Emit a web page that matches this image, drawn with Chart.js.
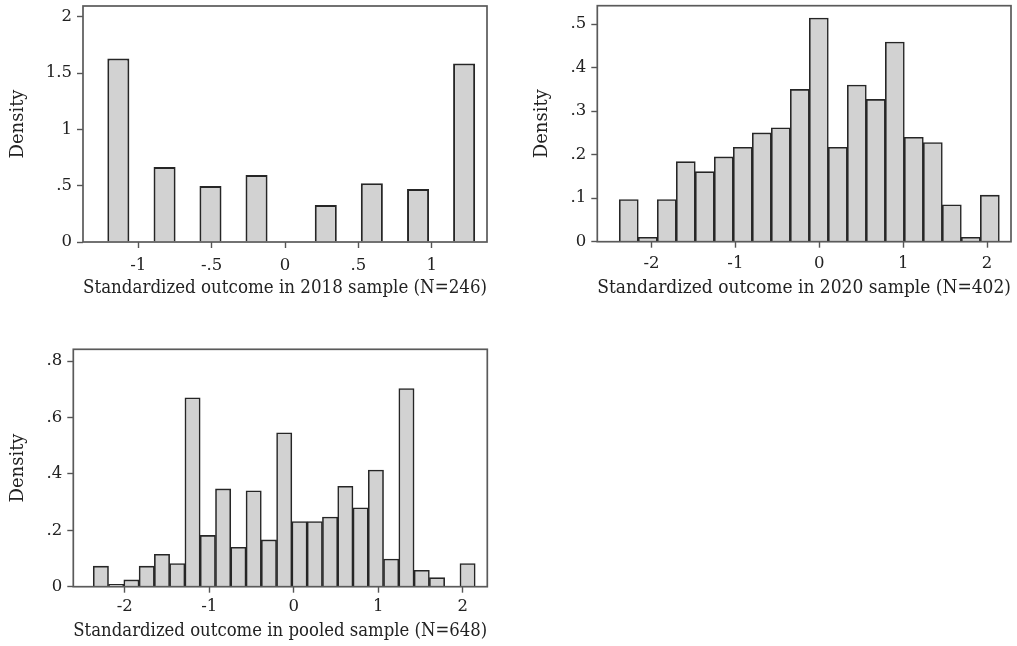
<!DOCTYPE html>
<html>
<head>
<meta charset="utf-8">
<script src="https://cdn.jsdelivr.net/npm/chart.js@4.4.1/dist/chart.umd.min.js"></script>
<style>
    html, body { margin: 0; padding: 0; background: #fff; }
    body { width: 1017px; height: 646px; position: relative; overflow: hidden; }
    .panel { position: absolute; }
</style>
</head>
<body>
<div class="panel" style="left:0;top:0;width:505px;height:310px"><canvas id="hist2018"></canvas></div>
<div class="panel" style="left:520px;top:0;width:497px;height:310px"><canvas id="hist2020"></canvas></div>
<div class="panel" style="left:0;top:340px;width:505px;height:306px"><canvas id="histPooled"></canvas></div>
<script>
// 2018 sample: discrete values, narrow bars
const centers2018 = [-1.136, -0.821, -0.508, -0.194, 0.278, 0.592, 0.907, 1.221];
const density2018 = [1.630, 0.667, 0.498, 0.596, 0.329, 0.521, 0.471, 1.585];

// 2020 sample: 20 bins
const binStart2020 = -2.384;
const binWidth2020 = 0.2265;
const density2020 = [0.097, 0.010, 0.097, 0.184, 0.161, 0.195, 0.217, 0.250, 0.262, 0.350,
                     0.514, 0.217, 0.360, 0.327, 0.459, 0.240, 0.228, 0.085, 0.010, 0.107];

// pooled sample: 25 bins
const binStartPooled = -2.372;
const binWidthPooled = 0.1808;
const densityPooled = [0.073, 0.008, 0.024, 0.073, 0.115, 0.082, 0.670, 0.182, 0.347, 0.140,
                       0.340, 0.166, 0.546, 0.231, 0.231, 0.247, 0.356, 0.280, 0.414, 0.098,
                       0.703, 0.058, 0.032, 0, 0.082];

const titles = {
    x2018: 'Standardized outcome in 2018 sample (N=246)',
    x2020: 'Standardized outcome in 2020 sample (N=402)',
    xPooled: 'Standardized outcome in pooled sample (N=648)',
    y: 'Density'
};

const TEXT = '#222';
const FONT = 'DejaVu Serif';

// frame around the plot region (Stata style)
const boxPlugin = {
    id: 'box',
    afterDatasetsDraw(chart) {
        const { ctx, chartArea: a } = chart;
        ctx.save();
        ctx.strokeStyle = '#5a5a5a';
        ctx.lineWidth = 1.7;
        ctx.strokeRect(a.left, a.top, a.right - a.left, a.bottom - a.top);
        ctx.restore();
    }
};

function fmt(v) {
    let s = String(parseFloat(v.toFixed(3)));
    return s.replace(/^0\./, '.').replace(/^-0\./, '-.');
}

function binCenters(start, width, n) {
    const out = [];
    for (let i = 0; i < n; i++) out.push(start + (i + 0.5) * width);
    return out;
}

function makeHist(id, xs, ys, p) {
    new Chart(document.getElementById(id), {
        type: 'bar',
        data: {
            datasets: [{
                data: xs.map((x, i) => ({ x: x, y: ys[i] })),
                backgroundColor: '#d2d2d2',
                borderColor: '#262626',
                borderWidth: p.bw,
                borderSkipped: 'start',
                barPercentage: p.barPct,
                categoryPercentage: 1
            }]
        },
        options: {
            responsive: true,
            maintainAspectRatio: false,
            animation: false,
            layout: { autoPadding: false, padding: p.pad },
            plugins: { legend: { display: false }, tooltip: { enabled: false } },
            scales: {
                x: {
                    type: 'linear',
                    min: p.xMin, max: p.xMax,
                    offset: false,
                    border: { display: false },
                    grid: { display: true, offset: false, drawOnChartArea: false, tickLength: 6, tickColor: '#555', tickWidth: 1.4 },
                    ticks: { stepSize: p.xStep, includeBounds: false, padding: p.xTickPad, color: TEXT,
                             font: { family: FONT, size: 16.5 }, maxRotation: 0, callback: v => fmt(v) },
                    title: { display: true, text: p.xTitle, color: TEXT, font: { family: FONT, size: 18 },
                             padding: { top: 0, bottom: p.xTitlePad } },
                    afterFit: s => { s.height = p.xH; s.paddingLeft = 0; s.paddingRight = 0; }
                },
                y: {
                    min: 0, max: p.yMax,
                    border: { display: false },
                    grid: { display: true, drawOnChartArea: false, tickLength: 6, tickColor: '#555', tickWidth: 1.4 },
                    ticks: { stepSize: p.yStep, includeBounds: false, padding: 5, color: TEXT,
                             font: { family: FONT, size: 16.5 }, callback: v => fmt(v) },
                    title: { display: true, text: titles.y, color: TEXT, font: { family: FONT, size: 18 },
                             padding: { top: p.yTitlePad, bottom: 0 } },
                    afterFit: s => { s.width = p.yW; s.paddingTop = 0; s.paddingBottom = 0; }
                }
            }
        },
        plugins: [boxPlugin]
    });
}

makeHist('hist2018', centers2018, density2018, {
    barPct: 0.48, bw: 2, xMin: -1.377, xMax: 1.377, xStep: 0.5, yMax: 2.096, yStep: 0.5,
    pad: { top: 6, right: 18, left: 0, bottom: 0 }, xH: 68, yW: 83,
    xTickPad: 7.6, xTitle: titles.x2018, xTitlePad: 11.2, yTitlePad: 7.2
});

makeHist('hist2020', binCenters(binStart2020, binWidth2020, density2020.length), density2020, {
    barPct: 1, bw: 1.6, xMin: -2.646, xMax: 2.285, xStep: 1, yMax: 0.5425, yStep: 0.1,
    pad: { top: 5.7, right: 6, left: 0, bottom: 0 }, xH: 68.3, yW: 77.3,
    xTickPad: 6.4, xTitle: titles.x2020, xTitlePad: 11.2, yTitlePad: 11.2
});

makeHist('histPooled', binCenters(binStartPooled, binWidthPooled, densityPooled.length), densityPooled, {
    barPct: 1, bw: 1.6, xMin: -2.608, xMax: 2.291, xStep: 1, yMax: 0.842, yStep: 0.2,
    pad: { top: 9.3, right: 17.7, left: 0, bottom: 0 }, xH: 59.3, yW: 73.3,
    xTickPad: 4.4, xTitle: titles.xPooled, xTitlePad: 3.5, yTitlePad: 7.2
});
</script>
</body>
</html>
